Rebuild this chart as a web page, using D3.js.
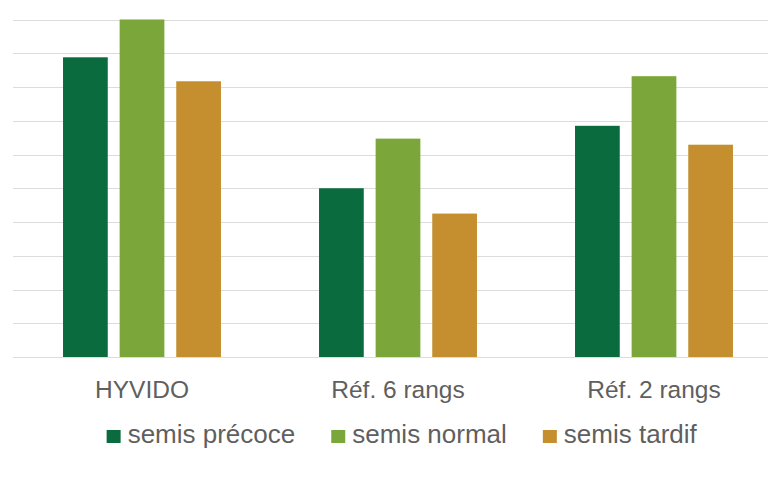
<!DOCTYPE html>
<html>
<head>
<meta charset="utf-8">
<script src="https://cdn.jsdelivr.net/npm/d3@7"></script>
<style>
  html, body { margin: 0; padding: 0; background: #ffffff; }
  svg { display: block; }
  text { font-family: "Liberation Sans", Arial, Helvetica, sans-serif; }
</style>
</head>
<body>
<svg id="chart" width="768" height="486"></svg>
<script>
// ---- data ----
const categories = ["HYVIDO", "Réf. 6 rangs", "Réf. 2 rangs"];
const seriesNames = ["semis précoce", "semis normal", "semis tardif"];
const semisPrecoce = [8.88, 5.0, 6.85];
const semisNormal  = [10.0, 6.47, 8.32];
const semisTardif  = [8.17, 4.25, 6.29];
const yTicks = [0, 1, 2, 3, 4, 5, 6, 7, 8, 9, 10];
const colors = ["#0a6b3e", "#7ba63a", "#c58f2f"];

const seriesValues = [semisPrecoce, semisNormal, semisTardif];
const table = categories.map((c, i) => ({
  category: c,
  values: seriesNames.map((s, j) => ({ series: s, value: seriesValues[j][i] }))
}));

// ---- layout ----
const W = 768, H = 486;
const plot = { left: 14, right: 782, top: 19.5, bottom: 357 };

const svg = d3.select("#chart");

const x0 = d3.scaleBand()
  .domain(categories)
  .range([plot.left, plot.right])
  .paddingInner(0.383)
  .paddingOuter(0.1915);

const x1 = d3.scaleBand()
  .domain(seriesNames)
  .range([0, x0.bandwidth()])
  .paddingInner(0.21)
  .paddingOuter(0);

const y = d3.scaleLinear()
  .domain([0, 10])
  .range([plot.bottom, plot.top]);

const color = d3.scaleOrdinal().domain(seriesNames).range(colors);

// gridlines
svg.append("g")
  .selectAll("line")
  .data(yTicks)
  .join("line")
  .attr("x1", 13)
  .attr("x2", W)
  .attr("y1", d => Math.round(y(d)) + 0.5)
  .attr("y2", d => Math.round(y(d)) + 0.5)
  .attr("stroke", "#dcdcdc")
  .attr("stroke-width", 1.2);

// bars
const groups = svg.append("g")
  .selectAll("g")
  .data(table)
  .join("g")
  .attr("transform", d => `translate(${x0(d.category)},0)`);

groups.selectAll("rect")
  .data(d => d.values)
  .join("rect")
  .attr("x", d => x1(d.series))
  .attr("width", x1.bandwidth())
  .attr("y", d => y(d.value))
  .attr("height", d => y(0) - y(d.value))
  .attr("fill", d => color(d.series));

// x axis labels
const xAxis = d3.axisBottom(x0).tickSize(0).tickPadding(0);
const gx = svg.append("g")
  .attr("transform", `translate(0,${plot.bottom})`)
  .call(xAxis);
gx.select(".domain").remove();
gx.selectAll("text")
  .attr("dy", null)
  .attr("y", 41)
  .attr("fill", "#5f5f5f")
  .style("font-size", "24.5px")
  .style("font-family", "'Liberation Sans', Arial, sans-serif");

// legend
const legend = svg.append("g");
const items = legend.selectAll("g")
  .data(seriesNames)
  .join("g");
items.append("rect")
  .attr("y", 430)
  .attr("width", 14)
  .attr("height", 13)
  .attr("fill", d => color(d));
items.append("text")
  .attr("x", 21)
  .attr("y", 442.5)
  .attr("fill", "#5f5f5f")
  .style("font-size", "26px")
  .text(d => d);

let cx = 0;
items.each(function() {
  const g = d3.select(this);
  g.attr("transform", `translate(${cx},0)`);
  const tw = g.select("text").node().getComputedTextLength();
  cx += 21 + tw + 36;
});
const totalW = cx - 36;
legend.attr("transform", `translate(${401.7 - totalW / 2},0)`);
</script>
</body>
</html>
